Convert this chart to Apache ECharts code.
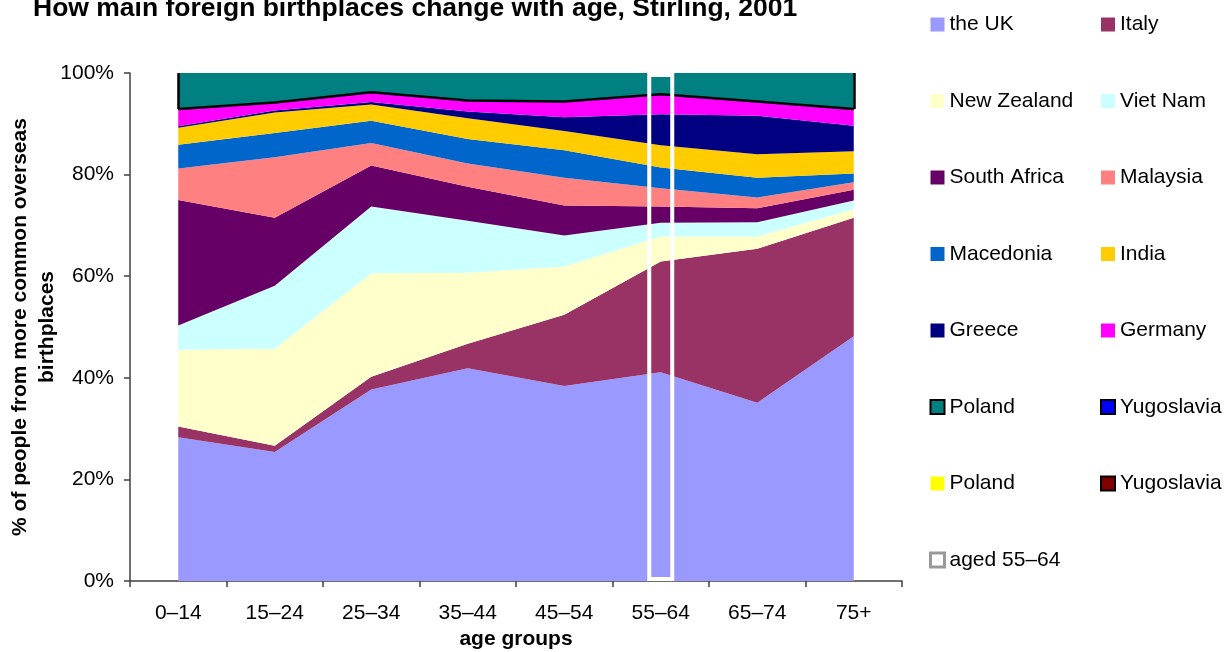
<!DOCTYPE html>
<html>
<head>
<meta charset="utf-8">
<script src="https://cdn.jsdelivr.net/npm/echarts@6/dist/echarts.min.js"></script>
<style>
html,body{margin:0;padding:0;background:#fff;}
#chart{width:1232px;height:652px;}
</style>
</head>
<body>
<div id="chart"></div>
<script>
const categories = ['0–14','15–24','25–34','35–44','45–54','55–64','65–74','75+'];
const ukValues        = [28.3, 25.4, 37.7, 41.9, 38.4, 41.1, 35.1, 48.2];
const italyValues     = [2.1, 1.2, 2.5, 4.8, 14.0, 21.8, 30.3, 23.3];
const nzValues        = [15.1, 19.1, 20.4, 14.0, 9.5, 4.9, 2.4, 1.7];
const vietnamValues   = [4.8, 12.4, 13.1, 10.2, 6.1, 2.7, 2.8, 1.7];
const saValues        = [24.7, 13.4, 8.1, 6.7, 5.9, 3.2, 2.8, 2.1];
const malaysiaValues  = [6.2, 11.9, 4.4, 4.6, 5.5, 3.6, 2.1, 1.5];
const macedoniaValues = [4.7, 4.8, 4.4, 4.8, 5.4, 4.1, 3.9, 1.7];
const indiaValues     = [3.3, 4.0, 3.2, 4.1, 3.8, 4.4, 4.6, 4.4];
const greeceValues    = [0.3, 0.4, 0.5, 1.3, 2.7, 6.1, 7.6, 5.0];
const germanyValues   = [3.4, 1.6, 1.9, 2.2, 3.1, 3.9, 2.8, 3.3];
const polandValues    = [7.1, 5.8, 3.8, 5.4, 5.6, 4.2, 5.6, 7.1];
const yugoslaviaValues  = [0, 0, 0, 0, 0, 0, 0, 0];
const poland2Values     = [0, 0, 0, 0, 0, 0, 0, 0];
const yugoslavia2Values = [0, 0, 0, 0, 0, 0, 0, 0];
const highlightCategory = '55–64';
const highlightValue = 100;
const yTicks = [0, 20, 40, 60, 80, 100];

const FONT = '"Liberation Sans", Arial, sans-serif';

const stackDefs = [
  ['the UK', ukValues, '#9999FF'],
  ['Italy', italyValues, '#993366'],
  ['New Zealand', nzValues, '#FFFFCC'],
  ['Viet Nam', vietnamValues, '#CCFFFF'],
  ['South Africa', saValues, '#660066'],
  ['Malaysia', malaysiaValues, '#FF8080'],
  ['Macedonia', macedoniaValues, '#0066CC'],
  ['India', indiaValues, '#FFCC00'],
  ['Greece', greeceValues, '#000080'],
  ['Germany', germanyValues, '#FF00FF'],
  ['Poland', polandValues, '#008080'],
  ['Yugoslavia', yugoslaviaValues, '#0000FF'],
  ['Poland ', poland2Values, '#FFFF00'],
  ['Yugoslavia ', yugoslavia2Values, '#800000']
];

const series = stackDefs.map(([name, data, color]) => ({
  name, type: 'line', stack: 'total', data,
  showSymbol: false, symbol: 'none',
  lineStyle: { width: 0 },
  areaStyle: { color, opacity: 1 },
  itemStyle: { color },
  emphasis: { disabled: true },
  z: 2
}));

// border line below Poland (cumulative through Germany)
const belowPoland = categories.map((c, i) =>
  ukValues[i] + italyValues[i] + nzValues[i] + vietnamValues[i] + saValues[i] +
  malaysiaValues[i] + macedoniaValues[i] + indiaValues[i] + greeceValues[i] + germanyValues[i]);
const last = categories.length - 1;
series.push({
  name: '_polandBorder', type: 'line', data: belowPoland,
  showSymbol: false, symbol: 'none',
  lineStyle: { color: '#000', width: 2.5 },
  emphasis: { disabled: true }, silent: true, z: 4,
  markLine: {
    silent: true, symbol: 'none', label: { show: false },
    lineStyle: { color: '#000', width: 2.5, type: 'solid' },
    data: [
      [{ coord: [0, belowPoland[0]] }, { coord: [0, 100] }],
      [{ coord: [last, belowPoland[last]] }, { coord: [last, 100] }]
    ]
  }
});

series.push({
  name: 'aged 55–64', type: 'bar',
  data: categories.map(c => c === highlightCategory ? highlightValue : null),
  barWidth: 27,
  itemStyle: { color: 'rgba(0,0,0,0)', borderColor: '#ffffff', borderWidth: 4 },
  emphasis: { disabled: true }, silent: true, z: 5
});

const legendText = { fontFamily: FONT, fontSize: 21, color: '#000', lineHeight: 20 };
function legendItem(name, extra) { return Object.assign({ name }, extra ? { itemStyle: extra } : {}); }

const option = {
  animation: false,
  backgroundColor: '#fff',
  title: {
    text: 'How main foreign birthplaces change with age, Stirling, 2001',
    left: 28, top: -10,
    textStyle: { fontFamily: FONT, fontSize: 26.5, fontWeight: 'bold', color: '#000' }
  },
  legend: [
    {
      orient: 'vertical', left: 924, top: 9, icon: 'rect',
      itemWidth: 14, itemHeight: 14, itemGap: 55.5, selectedMode: false,
      textStyle: legendText,
      data: [
        legendItem('the UK'), legendItem('New Zealand'), legendItem('South Africa'),
        legendItem('Macedonia'), legendItem('Greece'),
        legendItem('Poland', { color: '#008080', borderColor: '#000', borderWidth: 2 }),
        legendItem('Poland '),
        legendItem('aged 55–64', { color: '#fff', borderColor: '#999', borderWidth: 3 })
      ]
    },
    {
      orient: 'vertical', left: 1095, top: 9, icon: 'rect',
      itemWidth: 14, itemHeight: 14, itemGap: 55.5, selectedMode: false,
      textStyle: legendText,
      data: [
        legendItem('Italy'), legendItem('Viet Nam'), legendItem('Malaysia'),
        legendItem('India'), legendItem('Germany'),
        legendItem('Yugoslavia', { color: '#0000FF', borderColor: '#000', borderWidth: 2 }),
        legendItem('Yugoslavia ', { color: '#800000', borderColor: '#000', borderWidth: 2 })
      ]
    }
  ],
  grid: { left: 130, right: 330, top: 73, bottom: 71, containLabel: false, outerBoundsMode: 'none' },
  xAxis: {
    type: 'category', data: categories, boundaryGap: true,
    name: 'age groups', nameLocation: 'middle', nameGap: 48,
    nameTextStyle: { fontFamily: FONT, fontSize: 21, fontWeight: 'bold', color: '#000' },
    axisLine: { lineStyle: { color: '#404040', width: 1.5 } },
    axisTick: { show: true, length: 6, lineStyle: { color: '#404040', width: 1.5 } },
    axisLabel: { fontFamily: FONT, fontSize: 21, color: '#000', margin: 22 },
    splitLine: { show: false }
  },
  yAxis: {
    type: 'value', min: yTicks[0], max: yTicks[yTicks.length - 1], interval: yTicks[1] - yTicks[0],
    name: '% of people from more common overseas\nbirthplaces',
    nameLocation: 'middle', nameRotate: 90, nameGap: 69, nameMoveOverlap: false,
    nameTextStyle: { fontFamily: FONT, fontSize: 21, fontWeight: 'bold', color: '#000', lineHeight: 27, align: 'center' },
    axisLine: { show: true, lineStyle: { color: '#404040', width: 1.5 } },
    axisTick: { show: true, length: 6, lineStyle: { color: '#404040', width: 1.5 } },
    axisLabel: { fontFamily: FONT, fontSize: 21, color: '#000', margin: 16, formatter: '{value}%' },
    splitLine: { show: false }
  },
  series
};

const chart = echarts.init(document.getElementById('chart'), null, { renderer: 'canvas' });
chart.setOption(option);
</script>
</body>
</html>
